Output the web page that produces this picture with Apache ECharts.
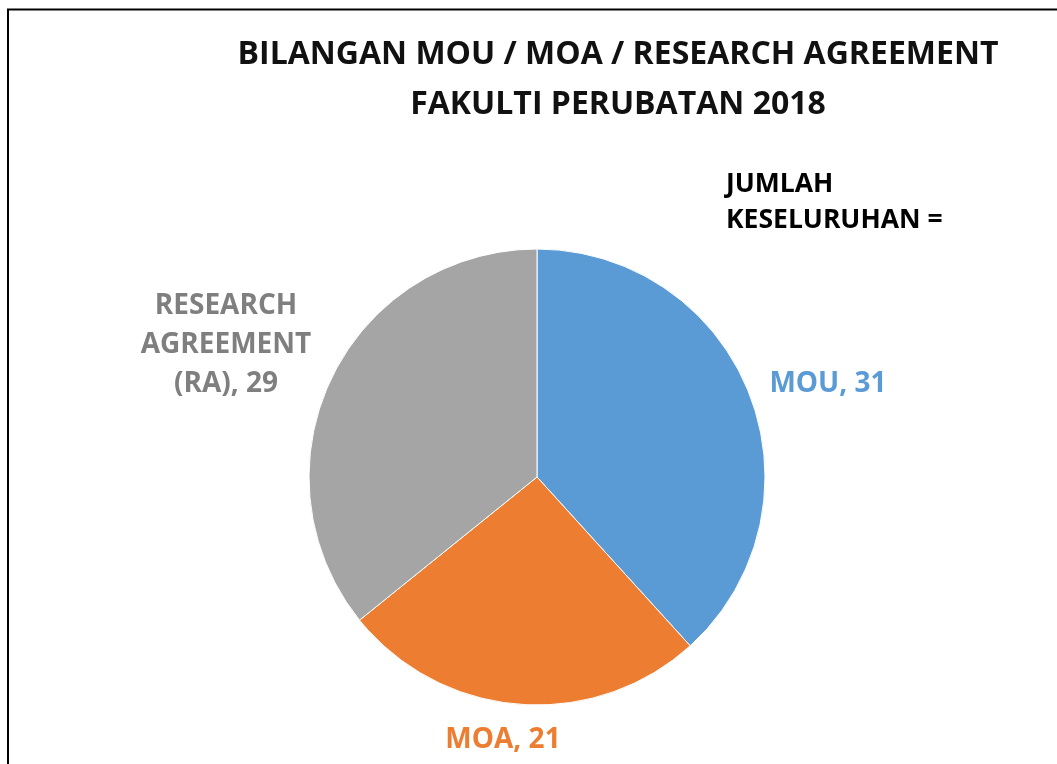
<!DOCTYPE html>
<html>
<head>
<meta charset="utf-8">
<script src="https://cdn.jsdelivr.net/npm/echarts@6/dist/echarts.min.js"></script>
<style>
  html, body { margin: 0; padding: 0; background: #fff; }
  #chart { width: 1057px; height: 764px; }
</style>
</head>
<body>
<div id="chart"></div>
<script>
// data
var categories = ["MOU", "MOA", "RESEARCH\nAGREEMENT\n(RA)"];
var values = [31, 21, 29];
var colors = ["#5B9BD5", "#ED7D31", "#A5A5A5"];
var labelColors = ["#5B9BD5", "#ED7D31", "#7F7F7F"];

// label anchor points (centre of each label)
var labelPos = [[828, 384], [503, 740], [226, 345]];

var font = "'Open Sans', 'Noto Sans', sans-serif";

var myChart = echarts.init(document.getElementById("chart"));
myChart.setOption({
  backgroundColor: "#fff",
  animation: false,
  title: [
    {
      text: "BILANGAN MOU / MOA / RESEARCH AGREEMENT",
      left: 613,
      top: 34,
      textAlign: "center",
      textStyle: { fontFamily: font, fontWeight: "bold", fontSize: 32, color: "#111" },
    },
    {
      text: "FAKULTI PERUBATAN 2018",
      left: 613,
      top: 84,
      textAlign: "center",
      textStyle: { fontFamily: font, fontWeight: "bold", fontSize: 32, color: "#111" },
    },
    {
      text: "JUMLAH\nKESELURUHAN =",
      left: 721,
      top: 161,
      textStyle: { fontFamily: font, fontWeight: "bold", fontSize: 26.5, lineHeight: 36, color: "#000" },
    },
  ],
  graphic: [
    {
      type: "rect",
      shape: { x: 8, y: 9.5, width: 1100, height: 800 },
      style: { fill: "none", stroke: "#000", lineWidth: 2 },
      z: 100,
    },
  ],
  series: [
    {
      type: "pie",
      center: [537, 477],
      radius: 228,
      startAngle: 90,
      clockwise: true,
      data: values.map(function (v, i) {
        return {
          name: categories[i],
          value: v,
          itemStyle: { color: colors[i] },
          label: { color: labelColors[i] },
        };
      }),
      itemStyle: { borderColor: "#fff", borderWidth: 1 },
      label: {
        show: true,
        position: "outside",
        formatter: "{b}, {c}",
        fontFamily: font,
        fontWeight: "bold",
        fontSize: 28,
        lineHeight: 39,
        align: "center",
      },
      labelLine: { show: false },
      labelLayout: function (p) {
        var pos = labelPos[p.dataIndex];
        return { x: pos[0], y: pos[1], align: "center", verticalAlign: "middle" };
      },
      emphasis: { disabled: true },
    },
  ],
});
</script>
</body>
</html>
